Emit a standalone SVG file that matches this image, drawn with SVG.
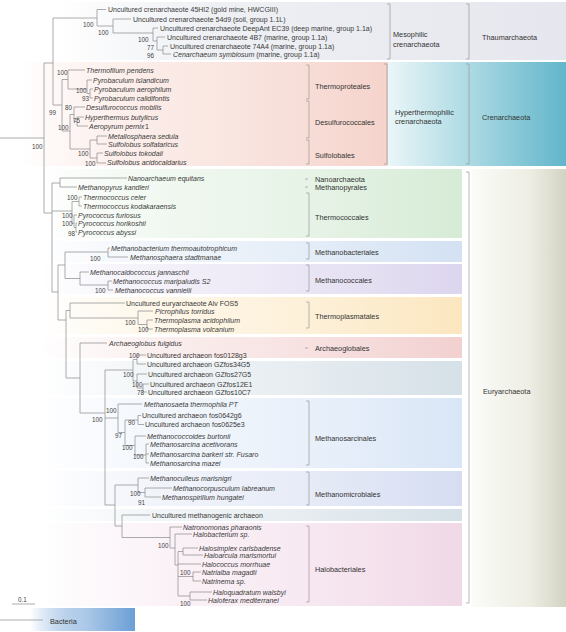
<svg xmlns="http://www.w3.org/2000/svg" width="566" height="632" viewBox="0 0 566 632">
<style>
text{font-family:"Liberation Sans",Arial,sans-serif;font-size:7px;fill:#3a3a3a}
.i{font-style:italic}
.b{font-size:6.3px;fill:#444}
.c{font-size:7.3px;fill:#333}
.ln{fill:none;stroke:#909090;stroke-width:0.75}
.br{fill:none;stroke:#9a9a9a;stroke-width:0.7}
</style>
<defs>
<linearGradient id="gThaum"><stop offset="0" stop-color="#eceef3" stop-opacity="0"/><stop offset="0.3" stop-color="#eef0f4"/><stop offset="1" stop-color="#e6e7ee"/></linearGradient>
<linearGradient id="gCrenL"><stop offset="0" stop-color="#f6d0c8" stop-opacity="0"/><stop offset="0.5" stop-color="#f9e2dc" stop-opacity="0.8"/><stop offset="1" stop-color="#f5d3cb"/></linearGradient>
<linearGradient id="gCrenR"><stop offset="0" stop-color="#eaf6f8"/><stop offset="0.45" stop-color="#addae4"/><stop offset="1" stop-color="#62b6ca"/></linearGradient>
<linearGradient id="gEury"><stop offset="0" stop-color="#fbfbf8"/><stop offset="0.6" stop-color="#eeeee5"/><stop offset="1" stop-color="#d3d3c4"/></linearGradient>
<linearGradient id="gGreen"><stop offset="0" stop-color="#d5ead5" stop-opacity="0"/><stop offset="0.5" stop-color="#e3f1e3" stop-opacity="0.7"/><stop offset="1" stop-color="#d6ebd6"/></linearGradient>
<linearGradient id="gBlue"><stop offset="0" stop-color="#d3e2f3" stop-opacity="0"/><stop offset="0.5" stop-color="#e0eaf6" stop-opacity="0.7"/><stop offset="1" stop-color="#d3e1f3"/></linearGradient>
<linearGradient id="gPurple"><stop offset="0" stop-color="#dcd4ee" stop-opacity="0"/><stop offset="0.5" stop-color="#e7e1f3" stop-opacity="0.7"/><stop offset="1" stop-color="#dcd5ee"/></linearGradient>
<linearGradient id="gYellow"><stop offset="0" stop-color="#fbe6bd" stop-opacity="0"/><stop offset="0.5" stop-color="#fdeed3" stop-opacity="0.7"/><stop offset="1" stop-color="#fbe6bf"/></linearGradient>
<linearGradient id="gRed"><stop offset="0" stop-color="#f3cfcf" stop-opacity="0"/><stop offset="0.5" stop-color="#f6dcdc" stop-opacity="0.7"/><stop offset="1" stop-color="#f2d0d0"/></linearGradient>
<linearGradient id="gGrey"><stop offset="0" stop-color="#d5e1e8" stop-opacity="0"/><stop offset="0.5" stop-color="#e2e9ee" stop-opacity="0.7"/><stop offset="1" stop-color="#d5e0e7"/></linearGradient>
<linearGradient id="gLBlue"><stop offset="0" stop-color="#d9e6f7" stop-opacity="0"/><stop offset="0.5" stop-color="#e6eef9" stop-opacity="0.7"/><stop offset="1" stop-color="#d9e6f7"/></linearGradient>
<linearGradient id="gLav"><stop offset="0" stop-color="#d6ddf2" stop-opacity="0"/><stop offset="0.5" stop-color="#e3e8f6" stop-opacity="0.7"/><stop offset="1" stop-color="#d6ddf2"/></linearGradient>
<linearGradient id="gPink"><stop offset="0" stop-color="#f1d9e8" stop-opacity="0"/><stop offset="0.5" stop-color="#f6e5ef" stop-opacity="0.7"/><stop offset="1" stop-color="#f0d8e7"/></linearGradient>
<linearGradient id="gBact"><stop offset="0" stop-color="#6b9fd6" stop-opacity="0"/><stop offset="0.5" stop-color="#b0cbe9"/><stop offset="1" stop-color="#6b9fd6"/></linearGradient>
</defs>

<g id="panels">
<rect x="60" y="2" width="506" height="58" fill="url(#gThaum)"/>
<rect x="20" y="62" width="368" height="104" fill="url(#gCrenL)"/>
<rect x="388" y="62" width="178" height="104" fill="url(#gCrenR)"/>
<rect x="472" y="169" width="94" height="438" fill="url(#gEury)"/>
<rect x="40" y="169" width="422" height="69" fill="url(#gGreen)"/>
<rect x="40" y="241" width="422" height="21" fill="url(#gBlue)"/>
<rect x="40" y="264" width="422" height="30" fill="url(#gPurple)"/>
<rect x="40" y="297" width="422" height="37" fill="url(#gYellow)"/>
<rect x="40" y="337" width="422" height="21" fill="url(#gRed)"/>
<rect x="40" y="361" width="422" height="34" fill="url(#gGrey)"/>
<rect x="40" y="398" width="422" height="70" fill="url(#gLBlue)"/>
<rect x="40" y="471" width="422" height="35" fill="url(#gLav)"/>
<rect x="40" y="509" width="422" height="12" fill="url(#gGrey)"/>
<rect x="40" y="523" width="422" height="83" fill="url(#gPink)"/>
<rect x="30" y="608" width="105" height="23" fill="url(#gBact)"/>
</g>

<g id="connectors">
<path class="ln" d="M0 138H44 M44 63V213 M44 63H53 M53 18V105 M53 18H97
M97 9.5V26 M97 9.5H106 M97 26H113 M113 19V33 M113 19H131 M113 33H153 M153 28V41 M153 28H158 M153 41H157 M157 37V50 M157 37H165 M157 50H163 M163 46V54 M163 46H168 M163 54H171
M53 105H62 M62 79.5V131 M62 79.5H68 M68 70V89 M68 70H85 M68 89H87 M87 80V93.5 M87 80H92 M87 93.5H90 M90 89V98 M90 89H93 M90 98H93
M62 131H70 M70 114.5V149 M70 114.5H74 M74 107V121.5 M74 107H85 M74 121.5H77 M77 117V126 M77 117H84 M77 126H88
M70 149H90 M90 140V158 M90 140H97 M90 158H97 M97 136V144 M97 136H107 M97 144H107 M97 153V163 M97 153H103 M97 163H106
M44 213H52 M52 183V292 M52 183H60 M60 178V187 M60 178H127 M60 187H77
M52 211H72 M72 201.5V223.5 M72 201.5H79 M79 197V206 M79 197H82 M79 206H82 M72 223.5H74 M74 215V227.5 M74 215H77 M74 227.5H76 M76 223V232 M76 223H77 M76 232H77
M52 292H58 M58 265V320 M58 265H65 M65 252V278.5 M65 252H108 M108 248V257 M108 248H110 M108 257H128 M65 278.5H80 M80 272V285 M80 272H89 M80 285H108 M108 281V290 M108 281H112 M108 290H113
M58 320H66 M66 310.5V378 M66 310.5H70 M70 303V318 M70 303H125 M70 318H138 M138 311V324.5 M138 311H153 M138 324.5H147 M147 320V329 M147 320H153 M147 329H153
M66 378H80 M80 343V413 M80 343H107 M80 413H105 M105 370V505
M105 370H133 M133 359.5V381 M133 359.5H137 M137 355V364 M137 355H146 M137 364H146 M133 381H137 M137 374V388 M137 374H147 M137 388H143 M143 384V392 M143 384H149 M143 392H147
M105 418H118 M118 404V432.5 M118 404H142 M118 432.5H125 M125 420V445.5 M125 420H138 M138 415.5V424.5 M138 415.5H141 M138 424.5H144 M125 445.5H135 M135 436V455 M135 436H146 M135 455H146 M146 444V463 M146 444H149 M146 454H149 M146 463H149
M105 505H115 M115 485V526 M115 485H138 M138 478V492.5 M138 478H149 M138 492.5H145 M145 488V497 M145 488H172 M145 497H161
M115 526H122 M122 515V537.5 M122 515H150 M122 537.5H170 M170 527V548 M170 527H182 M170 548H175 M175 534V565 M175 534H192 M175 565H178 M178 551.5V596 M178 551.5H183 M183 548V555 M183 548H198 M183 555H203 M178 564H201 M178 576.5H193 M193 572V581 M193 572H201 M193 581H201 M178 596H190 M190 592V600 M190 592H212 M190 600H207
M0 620H43 M12 604H35"/>
</g>

<g id="brackets">
<path class="br" d="M387 4H390V59H387 M466 4H469V59H466
M306 65H309V99H306 M306 101H309V138H306 M306 140H309V164H306 M384 64H387V164H384 M466 64H469V164H466
M305 179H308 M305 187H308 M306 193H309V236H306 M306 243H309V259H306 M306 265H309V291H306 M306 302H309V328H306 M305 348H308 M306 401H309V465H306 M306 472H309V505H306 M306 526H309V602H306 M466 172H469V603H466"/>
</g>

<g id="thaumarchaeota">
<text x="108" y="12">Uncultured crenarchaeote 45HI2 (gold mine, HWCGIII)</text>
<text x="133" y="21.5">Uncultured crenarchaeote 54d9 (soil, group 1.1L)</text>
<text x="160" y="30.5">Uncultured crenarchaeote DeepAnt EC39 (deep marine, group 1.1a)</text>
<text x="167" y="39.5">Uncultured crenarchaeote 4B7 (marine, group 1.1a)</text>
<text x="170" y="48.5">Uncultured crenarchaeote 74A4 (marine, group 1.1a)</text>
<text x="173" y="56.5"><tspan class="i">Cenarchaeum symbiosum</tspan> (marine, group 1.1a)</text>
<text class="b" x="83" y="27">100</text><text class="b" x="98" y="34.5">100</text><text class="b" x="138" y="41.5">100</text><text class="b" x="147" y="49.5">77</text><text class="b" x="147" y="57.5">96</text>
</g>

<g id="crenarchaeota">
<text class="i" x="86" y="72.5">Thermofilum pendens</text>
<text class="i" x="93" y="82.5">Pyrobaculum islandicum</text>
<text class="i" x="94" y="91.5">Pyrobaculum aerophilum</text>
<text class="i" x="94" y="100.5">Pyrobaculum calidifontis</text>
<text class="i" x="86" y="109.5">Desulfurococcus mobilis</text>
<text class="i" x="85" y="119.5">Hyperthermus butylicus</text>
<text class="i" x="89" y="128.5">Aeropyrum pernix</text><text x="145" y="128.5">1</text>
<text class="i" x="108" y="138.5">Metallosphaera sedula</text>
<text class="i" x="108" y="146.5">Sulfolobus solfataricus</text>
<text class="i" x="104" y="155.5">Sulfolobus tokodaii</text>
<text class="i" x="107" y="165">Sulfolobus acidocaldarius</text>
<text class="b" x="57" y="74.5">100</text><text class="b" x="76" y="92.5">100</text><text class="b" x="82" y="100.5">93</text><text class="b" x="49" y="114.5">99</text><text class="b" x="65" y="109.5">80</text><text class="b" x="73" y="122.5">75</text><text class="b" x="58" y="129.5">100</text><text class="b" x="78" y="155.5">100</text><text class="b" x="85" y="165.5">100</text>
<text class="b" x="32" y="148.5">100</text>
</g>

<g id="euryarchaeota">
<text class="i" x="128" y="180.5">Nanoarchaeum equitans</text>
<text class="i" x="78" y="189.5">Methanopyrus kandleri</text>
<text class="i" x="83" y="199.5">Thermococcus celer</text>
<text class="i" x="83" y="208.5">Thermococcus kodakaraensis</text>
<text class="i" x="78" y="217.5">Pyrococcus furiosus</text>
<text class="i" x="78" y="225.5">Pyrococcus horikoshii</text>
<text class="i" x="78" y="234.5">Pyrococcus abyssi</text>
<text class="i" x="111" y="250.5">Methanobacterium thermoautotrophicum</text>
<text class="i" x="130" y="259.5">Methanosphaera stadtmanae</text>
<text class="i" x="90" y="274.5">Methanocaldococcus jannaschii</text>
<text class="i" x="113" y="283.5">Methanococcus maripaludis S2</text>
<text class="i" x="115" y="292.5">Methanococcus vannielii</text>
<text x="126" y="305.5">Uncultured euryarchaeote Alv FOS5</text>
<text class="i" x="155" y="313.5">Picrophilus torridus</text>
<text class="i" x="154" y="322.5">Thermoplasma acidophilum</text>
<text class="i" x="154" y="331.5">Thermoplasma volcanium</text>
<text class="i" x="109" y="345.5">Archaeoglobus fulgidus</text>
<text x="147" y="357.5">Uncultured archaeon fos0128g3</text>
<text x="147" y="366.5">Uncultured archaeon GZfos34G5</text>
<text x="148" y="376.5">Uncultured archaeon GZfos27G5</text>
<text x="150" y="386.5">Uncultured archaeon GZfos12E1</text>
<text x="148" y="394.5">Uncultured archaeon GZfos10C7</text>
<text class="i" x="144" y="406.5">Methanosaeta thermophila PT</text>
<text x="142" y="417.5">Uncultured archaeon fos0642g6</text>
<text x="145" y="426.5">Uncultured archaeon fos0625e3</text>
<text class="i" x="147" y="438.5">Methanococcoides burtonii</text>
<text class="i" x="150" y="446.5">Methanosarcina acetivorans</text>
<text class="i" x="150" y="456.5">Methanosarcina barkeri str. Fusaro</text>
<text class="i" x="150" y="465.5">Methanosarcina mazei</text>
<text class="i" x="150" y="480.5">Methanoculleus marisnigri</text>
<text class="i" x="173" y="490.5">Methanocorpusculum labreanum</text>
<text class="i" x="162" y="499.5">Methanospirillum hungatei</text>
<text x="152" y="517.5">Uncultured methanogenic archaeon</text>
<text class="i" x="183" y="529.5">Natronomonas pharaonis</text>
<text class="i" x="193" y="536.5">Halobacterium sp.</text>
<text class="i" x="199" y="550.5">Halosimplex carlsbadense</text>
<text class="i" x="204" y="557.5">Haloarcula marismortui</text>
<text class="i" x="202" y="566.5">Halococcus morrhuae</text>
<text class="i" x="202" y="574.5">Natrialba magadii</text>
<text class="i" x="202" y="583.5">Natrinema sp.</text>
<text class="i" x="213" y="594.5">Haloquadratum walsbyi</text>
<text class="i" x="208" y="602.5">Haloferax mediterranei</text>
<text class="b" x="67" y="199.5">100</text><text class="b" x="62" y="217.5">100</text><text class="b" x="62" y="225.5">100</text><text class="b" x="68" y="235.5">98</text><text class="b" x="90" y="260.5">100</text><text class="b" x="95" y="292.5">100</text>
<text class="b" x="125" y="324.5">100</text><text class="b" x="138" y="331.5">100</text><text class="b" x="129" y="357.5">100</text><text class="b" x="123" y="376.5">100</text><text class="b" x="132" y="386.5">100</text><text class="b" x="137" y="394.5">78</text>
<text class="b" x="106" y="412.5">100</text><text class="b" x="128" y="424.5">90</text><text class="b" x="115" y="437.5">97</text><text class="b" x="122" y="449.5">100</text><text class="b" x="133" y="458.5">100</text><text class="b" x="92" y="421.5">100</text>
<text class="b" x="130" y="495.5">100</text><text class="b" x="138" y="504.5">91</text><text class="b" x="158" y="547.5">100</text><text class="b" x="180" y="574.5">100</text><text class="b" x="180" y="605.5">100</text>
</g>

<g id="clades">
<text class="c" x="393" y="36.5">Mesophilic</text><text class="c" x="393" y="46.5">crenarchaeota</text>
<text class="c" x="482" y="39.5">Thaumarchaeota</text>
<text class="c" x="315" y="88.5">Thermoproteales</text>
<text class="c" x="315" y="124.5">Desulfurococcales</text>
<text class="c" x="315" y="157.5">Sulfolobales</text>
<text class="c" x="395" y="115">Hyperthermophilic</text><text class="c" x="395" y="123.5">crenarchaeota</text>
<text class="c" x="482" y="119.5">Crenarchaeota</text>
<text class="c" x="315" y="181.5">Nanoarchaeota</text>
<text class="c" x="315" y="189.5">Methanopyrales</text>
<text class="c" x="315" y="219.5">Thermococcales</text>
<text class="c" x="315" y="254.5">Methanobacteriales</text>
<text class="c" x="315" y="282.5">Methanococcales</text>
<text class="c" x="315" y="318.5">Thermoplasmatales</text>
<text class="c" x="315" y="350.5">Archaeoglobales</text>
<text class="c" x="315" y="440.5">Methanosarcinales</text>
<text class="c" x="315" y="496.5">Methanomicrobiales</text>
<text class="c" x="315" y="571.5">Halobacteriales</text>
<text class="c" x="483" y="393.5">Euryarchaeota</text>
</g>
<g id="legend">
<text class="c" x="50" y="623.5">Bacteria</text>
<text class="b" x="18" y="602">0.1</text>
</g>
</svg>
